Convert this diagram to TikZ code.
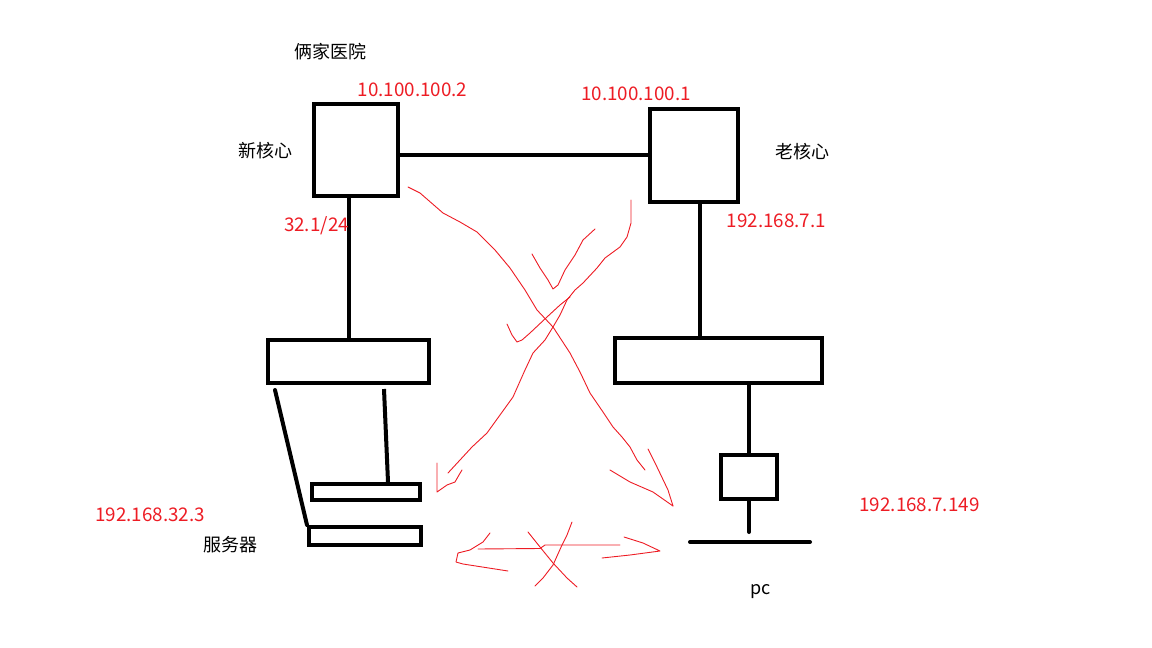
\documentclass[tikz,border=0pt]{standalone}
\usepackage{fontspec}
\setmainfont{Noto Sans CJK SC}
\usepackage{tikz}
\usetikzlibrary{calc}
\definecolor{inkred}{RGB}{237,28,36}
\newcommand{\devbox}[5]{\node[draw, line width=4pt, minimum width=#4pt, minimum height=#5pt, inner sep=0pt] (#1) at ( #2 , #3 ) {};}
\newcommand{\lablnode}[4]{\node[inner sep=0pt, font=\fontsize{18}{20}\selectfont] (#1) at ( #2 , #3 ) {#4};}
\newcommand{\ipnode}[4]{\node[inner sep=0pt, text=inkred, font=\fontsize{18.8}{20}\selectfont] (#1) at ( #2 , #3 ) {#4};}

\begin{document}
\begin{tikzpicture}[x=1pt, y=-1pt,
    wire/.style={line width=4pt},
    redpen/.style={inkred, line width=0.9pt, line join=round, line cap=round}]
        \useasboundingbox (0,0) rectangle (1152,648);
        % cores
        \devbox{newc}{355.75}{150}{84.5}{92}
        \devbox{oldc}{694}{155.25}{88}{93.5}
        % switches
        \devbox{lsw}{348.5}{361.5}{161}{43}
        \devbox{rsw}{718.5}{360.5}{207}{45}
        % servers
        \devbox{upn}{366}{492}{108}{16}
        \devbox{srv}{365}{535.75}{112}{17.5}
        % pc
        \devbox{pcbox}{749}{477}{56}{44}
        \coordinate (pcstem) at (749,532);
        \coordinate (pcl) at (690,542);
        \coordinate (pcr) at (810,542);
        % links
        \draw[wire] (newc.east |- oldc.west) -- (oldc.west);
        \draw[wire] (newc.south -| lsw.north) -- (lsw.north);
        \draw[wire] ([xshift=6pt]oldc.south) -- ([xshift=6pt]oldc.south |- rsw.north);
        \draw[wire] (rsw.south -| pcbox.north) -- (pcbox.north);
        \draw[wire, line cap=round] (pcbox.south) -- (pcstem);
        \draw[wire, line cap=round] (pcl) -- (pcr);
        \draw[wire, line cap=round] ([xshift=9pt, yshift=-5pt]lsw.south west) -- (srv.north west);
        \draw[wire] ([xshift=35.5pt, yshift=-4pt]lsw.south) -- ([xshift=22pt]upn.north);
        % labels
        \lablnode{title}{330}{52}{俩家医院}
        \lablnode{newlbl}{265}{151}{新核心}
        \lablnode{oldlbl}{802}{152}{老核心}
        \lablnode{srvlbl}{230}{545}{服务器}
        \lablnode{pclbl}{761}{592}{pc}
        % addresses
        \ipnode{ipnew}{412.5}{90}{10.100.100.2}
        \ipnode{ipold}{636}{94}{10.100.100.1}
        \ipnode{ipgw}{316.5}{225.5}{32.1/24}
        \ipnode{ipvlan}{776.5}{220.5}{192.168.7.1}
        \ipnode{ipsrv}{150}{514.5}{192.168.32.3}
        \ipnode{ippc}{919.5}{505}{192.168.7.149}
        % red marks, cross
        \draw[redpen] (408,187) -- (420,193) -- (443,213) -- (460,222) -- (477,232) -- (495,250) -- (510,268) -- (525,290) -- (537,310) -- (553,327) -- (570,353) -- (580,372) -- (590,393) -- (603,412) -- (613,427) -- (622,437) -- (630,447) -- (637,460) -- (645,470);
        \draw[redpen] (610,470) -- (630,482) -- (653,492) -- (673,506);
        \draw[redpen] (648,449) -- (657,467) -- (668,490) -- (673,506);
        \draw[redpen] (631,200) -- (631,223) -- (627,237) -- (620,247) -- (605,258) -- (597,268) -- (583,283) -- (575,290) -- (567,300) -- (560,315) -- (553,327) -- (545,340) -- (533,353) -- (525,370) -- (513,397) -- (500,415) -- (487,433) -- (472,447) -- (460,460) -- (448,473);
        \draw[redpen] (437,463) -- (437,492) -- (447,485) -- (455,482) -- (459,475) -- (462,470);
        \draw[redpen] (532,254) -- (540,268) -- (548,280) -- (553,289) -- (558,285) -- (565,270) -- (575,255) -- (583,240) -- (595,229);
        \draw[redpen] (507,324) -- (512,335) -- (517,342) -- (522,340) -- (530,333) -- (547,317) -- (560,305) -- (570,297);
        % red marks, bottom
        \draw[redpen] (478,549) -- (540,548.5) -- (545,545) -- (620,545);
        \draw[redpen] (490,533) -- (483,542) -- (470,550) -- (458,553) -- (456,562) -- (463,564) -- (508,571);
        \draw[redpen] (624,537) -- (643,543) -- (660,551) -- (630,555) -- (602,558);
        \draw[redpen] (528,532) -- (540,547) -- (553,563) -- (567,578) -- (577,587);
        \draw[redpen] (572,522) -- (567,535) -- (562,545) -- (553,565) -- (543,578) -- (535,586);
\end{tikzpicture}
\end{document}
